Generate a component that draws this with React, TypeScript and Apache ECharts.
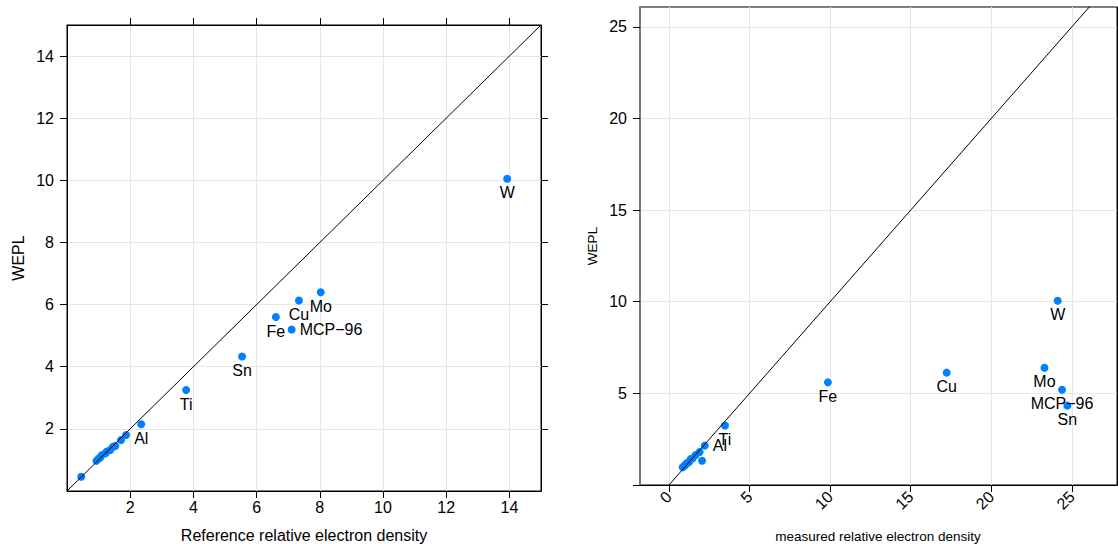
import React, { useEffect, useRef } from "react";
import * as echarts from "echarts";

// Metal inserts: reference vs measured relative electron density and WEPL
const metalNames = ["W", "Mo", "Cu", "Fe", "MCP−96", "Sn", "Ti", "Al"];
const metalRefDensity = [13.93, 8.03, 7.34, 6.61, 7.11, 5.54, 3.77, 2.35];
const metalMeasuredDensity = [24.12, 23.3, 17.23, 9.86, 24.39, 24.72, 3.47, 2.22];
const metalWepl = [10.05, 6.4, 6.13, 5.6, 5.2, 4.33, 3.25, 2.15];

// Tissue-equivalent inserts (unlabelled); no measured value for the lowest one
const tissueRefDensity = [0.45, 0.93, 1.0, 1.05, 1.1, 1.21, 1.26, 1.37, 1.45, 1.53, 1.71, 1.87];
const tissueMeasuredDensity = [null, 0.85, 0.95, 1.0, 1.05, 1.15, 1.25, 2.05, 1.35, 1.45, 1.65, 1.9];
const tissueWepl = [0.46, 0.97, 1.04, 1.08, 1.15, 1.21, 1.27, 1.32, 1.42, 1.45, 1.64, 1.8];

// Tick values
const leftTicks = [2, 4, 6, 8, 10, 12, 14];
const rightXTicks = [0, 5, 10, 15, 20, 25];
const rightYTicks = [0, 5, 10, 15, 20, 25];
const rightYLabels = [5, 10, 15, 20, 25];

const FONT = '"Liberation Sans", Arial, Helvetica, sans-serif';
const POINT = "#0080ff";
const GRID_LINE = "#e6e6e6";

// Labels that sit beside their point instead of underneath it
const sideLabelsLeft: Record<string, boolean> = { "MCP−96": true };
const sideLabelsRight: Record<string, boolean> = { Al: true };

function buildPoints(
  xs: (number | null)[],
  ys: number[],
  names: string[] | null,
  side: Record<string, boolean>
) {
  const out: any[] = [];
  xs.forEach((x, i) => {
    if (x === null) return;
    const name = names ? names[i] : "";
    const beside = name && side[name];
    out.push({
      value: [x, ys[i]],
      name,
      label: {
        show: !!name,
        position: beside ? "right" : "bottom",
        distance: beside ? 4 : 2,
      },
    });
  });
  return out;
}

function tickAxis(extra: any) {
  return {
    type: "value",
    axisLine: { show: true, onZero: false, lineStyle: { color: "#000", width: 1 } },
    axisTick: { show: true, inside: false, length: 7, lineStyle: { color: "#000", width: 1 } },
    axisLabel: { show: false },
    splitLine: { show: false },
    ...extra,
  };
}

const labelStyle = { fontSize: 16, color: "#000", fontFamily: FONT };

export default function App() {
  const ref = useRef<HTMLDivElement>(null);

  useEffect(() => {
    if (!ref.current) return;
    const chart = echarts.init(ref.current, undefined, { renderer: "svg" });

    const leftPoints = [
      ...buildPoints(tissueRefDensity, tissueWepl, null, sideLabelsLeft),
      ...buildPoints(metalRefDensity, metalWepl, metalNames, sideLabelsLeft),
    ];
    const rightPoints = [
      ...buildPoints(tissueMeasuredDensity, tissueWepl, null, sideLabelsRight),
      ...buildPoints(metalMeasuredDensity, metalWepl, metalNames, sideLabelsRight),
    ];

    const scatterBase = {
      type: "scatter",
      symbol: "circle",
      symbolSize: 8,
      itemStyle: { color: POINT, opacity: 1 },
      label: { ...labelStyle, formatter: "{b}" },
      emphasis: { disabled: true },
      z: 2,
    };
    const diagBase = {
      type: "line",
      symbol: "none",
      silent: true,
      clip: true,
      lineStyle: { color: "#000", width: 1 },
      z: 3,
    };

    chart.setOption({
      animation: false,
      textStyle: { fontFamily: FONT },
      grid: [
        { left: 67, top: 25, width: 474, height: 466, show: true, borderColor: "#000", borderWidth: 1, backgroundColor: "transparent" },
        { left: 640, top: 7, width: 477, height: 478, show: true, borderColor: "#000", borderWidth: 1, backgroundColor: "transparent" },
      ],
      xAxis: [
        tickAxis({
          gridIndex: 0,
          position: "bottom",
          min: 0,
          max: 15,
          interval: 5,
          axisTick: { show: true, inside: false, length: 7, customValues: leftTicks, lineStyle: { color: "#000" } },
          axisLabel: { show: true, customValues: leftTicks, margin: 8, ...labelStyle },
          splitLine: { show: true, lineStyle: { color: GRID_LINE, width: 1 } },
        }),
        tickAxis({
          gridIndex: 0,
          position: "top",
          min: 0,
          max: 15,
          interval: 5,
          axisTick: { show: true, inside: false, length: 7, customValues: leftTicks, lineStyle: { color: "#000" } },
        }),
        tickAxis({
          gridIndex: 1,
          position: "bottom",
          min: -1.8,
          max: 27.8,
          minInterval: 5,
          maxInterval: 5,
          axisTick: { show: true, inside: false, length: 7, customValues: rightXTicks, lineStyle: { color: "#000" } },
          axisLabel: { show: true, customValues: rightXTicks, rotate: 45, margin: 9, ...labelStyle },
          splitLine: { show: true, lineStyle: { color: GRID_LINE, width: 1 } },
        }),
      ],
      yAxis: [
        tickAxis({
          gridIndex: 0,
          position: "left",
          min: 0,
          max: 15,
          interval: 5,
          axisTick: { show: true, inside: false, length: 7, customValues: leftTicks, lineStyle: { color: "#000" } },
          axisLabel: { show: true, customValues: leftTicks, margin: 13, ...labelStyle },
          splitLine: { show: true, lineStyle: { color: GRID_LINE, width: 1 } },
        }),
        tickAxis({
          gridIndex: 0,
          position: "right",
          min: 0,
          max: 15,
          interval: 5,
          axisTick: { show: true, inside: false, length: 7, customValues: leftTicks, lineStyle: { color: "#000" } },
        }),
        tickAxis({
          gridIndex: 1,
          position: "left",
          min: 0,
          max: 26.08,
          interval: 5,
          axisLine: { show: true, onZero: false, lineStyle: { color: "#777", width: 2 } },
          axisTick: { show: true, inside: false, length: 7, customValues: rightYTicks, lineStyle: { color: "#000" } },
          axisLabel: { show: true, customValues: rightYLabels, margin: 13, ...labelStyle },
          splitLine: { show: true, lineStyle: { color: GRID_LINE, width: 1 } },
        }),
        tickAxis({
          gridIndex: 1,
          position: "right",
          min: 0,
          max: 26.08,
          interval: 5,
          axisTick: { show: true, inside: false, length: 7, customValues: rightYLabels, lineStyle: { color: "#000" } },
        }),
      ],
      series: [
        { ...scatterBase, xAxisIndex: 0, yAxisIndex: 0, data: leftPoints },
        { ...diagBase, xAxisIndex: 0, yAxisIndex: 0, data: [[0, 0], [15, 15]] },
        { ...scatterBase, xAxisIndex: 2, yAxisIndex: 2, data: rightPoints },
        { ...diagBase, xAxisIndex: 2, yAxisIndex: 2, data: [[0, 0], [30, 30]] },
      ],
      graphic: [
        {
          type: "text",
          x: 304,
          y: 535,
          style: { text: "Reference relative electron density", fontSize: 16, fill: "#000", fontFamily: FONT, align: "center", verticalAlign: "middle" },
        },
        {
          type: "text",
          x: 18,
          y: 258,
          rotation: Math.PI / 2,
          style: { text: "WEPL", fontSize: 16, fill: "#000", fontFamily: FONT, align: "center", verticalAlign: "middle" },
        },
        {
          type: "text",
          x: 878,
          y: 536,
          style: { text: "measured relative electron density", fontSize: 13.5, fill: "#000", fontFamily: FONT, align: "center", verticalAlign: "middle" },
        },
        {
          type: "text",
          x: 592,
          y: 246,
          rotation: Math.PI / 2,
          style: { text: "WEPL", fontSize: 13.5, fill: "#000", fontFamily: FONT, align: "center", verticalAlign: "middle" },
        },
      ],
    });

    return () => chart.dispose();
  }, []);

  return (
    <div
      ref={ref}
      style={{ position: "absolute", left: 0, top: 0, width: 1118, height: 544, background: "#fff" }}
    />
  );
}
